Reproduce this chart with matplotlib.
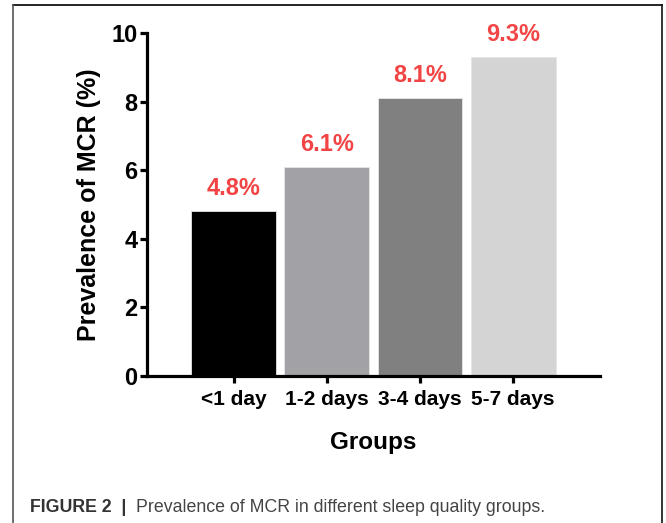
import matplotlib
matplotlib.use("Agg")
import matplotlib.pyplot as plt
from matplotlib.lines import Line2D

groups = ["<1 day", "1-2 days", "3-4 days", "5-7 days"]
prevalence = [4.8, 6.1, 8.1, 9.3]
bar_colors = ["#000000", "#a2a2a6", "#808080", "#d4d4d4"]

plt.rcParams['font.family'] = ['Liberation Sans', 'DejaVu Sans']

fig = plt.figure(figsize=(6.66, 5.23), dpi=100)
ax = fig.add_axes([0.2207, 0.281, 0.680, 0.656])

x = range(len(groups))
ax.bar(x, prevalence, width=0.91, color=bar_colors, edgecolor="#e6e6e6", linewidth=0.6, zorder=2)
for i, v in enumerate(prevalence):
    ax.annotate(f"{v}%", (i, v), xytext=(0, 8), textcoords="offset points",
                ha="center", va="bottom", color="#f24444", fontsize=17, fontweight="bold")

ax.set_xlim(-0.93, 3.93)
ax.set_ylim(0, 10)
ax.set_yticks([0, 2, 4, 6, 8, 10])
ax.set_xticks(list(x))
ax.set_xticklabels(groups)
for s in ["top", "right"]:
    ax.spines[s].set_visible(False)
for s in ["left", "bottom"]:
    ax.spines[s].set_linewidth(2.3)
ax.tick_params(axis="y", length=5, width=2.3, labelsize=17, pad=2)
ax.tick_params(axis="x", length=5, width=2.3, labelsize=15, pad=5)
for lab in ax.get_xticklabels() + ax.get_yticklabels():
    lab.set_fontweight("bold")

ax.set_ylabel("Prevalence of MCR (%)", fontsize=18, fontweight="bold", labelpad=7)
ax.set_xlabel("Groups", fontsize=17.5, fontweight="bold", labelpad=16)

# frame around the figure panel
W, H = 666, 523
fig.add_artist(Line2D([13 / W, 662 / W], [1 - 5 / H, 1 - 5 / H], color="black", lw=1.2))
fig.add_artist(Line2D([13 / W, 13 / W], [0, 1 - 5 / H], color="#555555", lw=1.2))
fig.add_artist(Line2D([662 / W, 662 / W], [0, 1 - 5 / H], color="#111111", lw=1.2))

# caption
t1 = fig.text(30 / W, 1 - 508 / H, "FIGURE 2  |  ", fontsize=12.8, fontweight="bold",
              color="#333333", va="center")
fig.canvas.draw()
bb = t1.get_window_extent()
fig.text(bb.x1 / W, 1 - 508 / H, "Prevalence of MCR in different sleep quality groups.",
         fontsize=12.8, color="#444444", va="center")

fig.savefig("out.png", dpi=100)
